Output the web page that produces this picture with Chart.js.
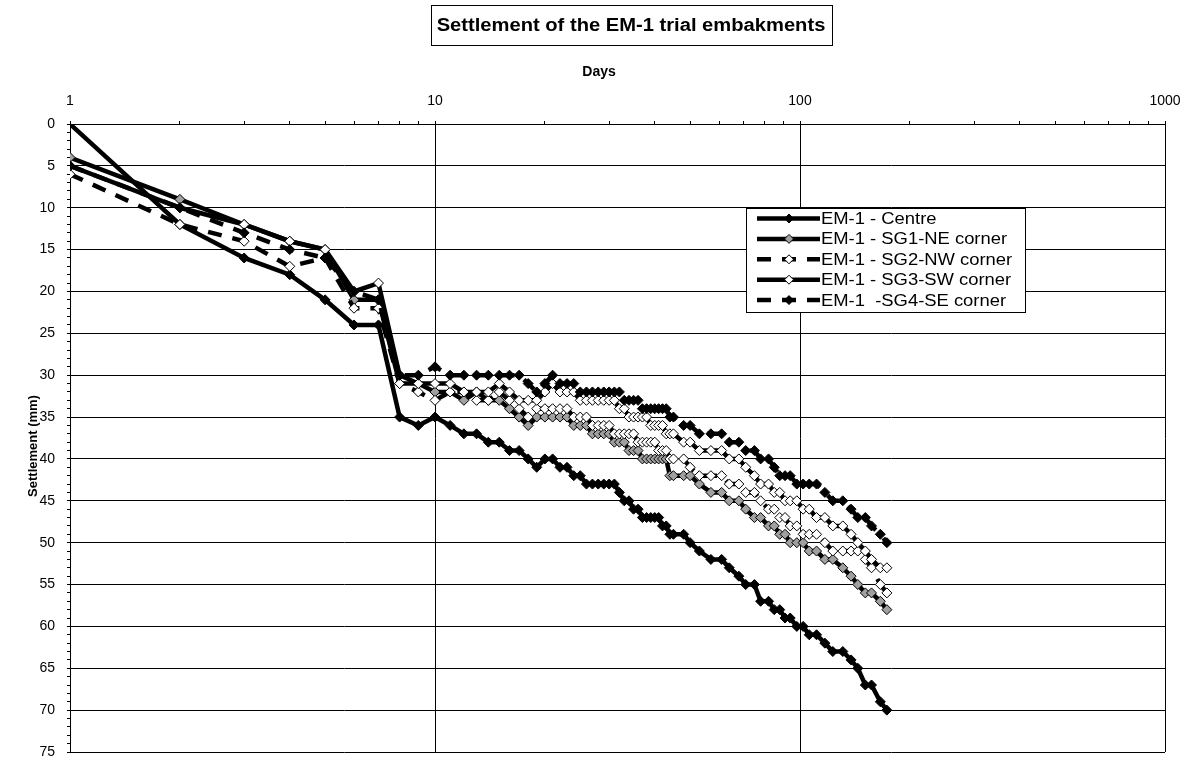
<!DOCTYPE html>
<html>
<head>
<meta charset="utf-8">
<script src="https://cdn.jsdelivr.net/npm/chart.js@4.4.1/dist/chart.umd.min.js"></script>
<style>
  html, body { margin: 0; padding: 0; background: #ffffff; }
  #wrap { width: 1192px; height: 762px; position: relative; }
</style>
</head>
<body>
<div id="wrap"><canvas id="settlement"></canvas></div>
<script>
// ---- Text ----
const chartTitle = 'Settlement of the EM-1 trial embakments';
const xAxisTitle = 'Days';
const yAxisTitle = 'Settlement (mm)';
const seriesNames = [
  'EM-1 - Centre',
  'EM-1 - SG1-NE corner',
  'EM-1 - SG2-NW corner',
  'EM-1 - SG3-SW corner',
  'EM-1  -SG4-SE corner'
];

// ---- Axis ticks ----
const xDecades = [1, 10, 100, 1000];
const yTickValues = [0, 5, 10, 15, 20, 25, 30, 35, 40, 45, 50, 55, 60, 65, 70, 75];

// ---- Readings (day, settlement in mm) ----
const days = [1, 2, 3, 4, 5, 6, 7, 8, 9, 10,
  11, 12, 13, 14, 15, 16, 17, 18, 19, 20,
  21, 22, 23, 24, 25, 26, 27, 28, 29, 30,
  31, 32, 33, 34, 35, 36, 37, 38, 39, 40,
  41, 42, 43, 44, 45,
  48, 50, 53, 57, 61, 64, 68, 71, 75, 78, 82, 85, 88, 91, 94, 98,
  102, 106, 111, 117, 123, 131, 138, 144, 151, 157, 166, 173];

const centre = [0, 12, 16, 18, 21, 24, 24, 35, 36, 35,
  36, 37, 37, 38, 38, 39, 39, 40, 41, 40,
  40, 41, 41, 42, 42, 43, 43, 43, 43, 43,
  43, 44, 45, 45, 46, 46, 47, 47, 47, 47,
  47, 48, 48, 49, 49,
  49, 50, 51, 52, 52, 53, 54, 55, 55, 57, 57, 58, 58, 59, 59, 60,
  60, 61, 61, 62, 63, 63, 64, 65, 67, 67, 69, 70];

const sg1NE = [4, 9, 12, 14, 15, 21, 21, 31, 31, 32,
  32, 33, 32, 33, 33, 34, 35, 36, 35, 35,
  35, 35, 35, 36, 36, 36, 37, 37, 37, 37,
  38, 38, 38, 39, 39, 39, 40, 40, 40, 40,
  40, 40, 40, 42, 42,
  42, 42, 43, 44, 44, 45, 45, 46, 47, 47, 48, 48, 49, 49, 50, 50,
  50, 51, 51, 52, 52, 53, 54, 55, 56, 56, 57, 58];

const sg2NW = [6, 12, 14, 17, 16, 22, 22, 31, 32, 33,
  32, 32, 33, 33, 32, 33, 34, 35, 34, 34,
  34, 34, 34, 35, 35, 35, 36, 36, 36, 36,
  37, 37, 37, 37, 37, 38, 38, 38, 38, 38,
  39, 39, 39, 40, 40,
  40, 41, 42, 42, 42, 43, 43, 44, 44, 45, 46, 46, 47, 47, 48, 48,
  49, 49, 49, 50, 51, 51, 51, 51, 52, 53, 55, 56];

const sg3SW = [5, 10, 12, 14, 15, 20, 19, 30, 31, 31,
  31, 32, 32, 32, 31, 32, 33, 33, 33, 32,
  31, 32, 32, 32, 33, 33, 33, 33, 33, 33,
  33, 34, 34, 35, 35, 35, 35, 35, 36, 36,
  36, 36, 37, 37, 37,
  38, 38, 39, 39, 39, 40, 40, 41, 42, 43, 43, 44, 44, 45, 45, 45,
  46, 46, 47, 47, 48, 48, 49, 50, 51, 52, 53, 53];

const sg4SE = [5, 10, 13, 15, 16, 20, 21, 30, 30, 29,
  30, 30, 30, 30, 30, 30, 30, 31, 32, 31,
  30, 31, 31, 31, 32, 32, 32, 32, 32, 32,
  32, 32, 33, 33, 33, 33, 34, 34, 34, 34,
  34, 34, 34, 35, 35,
  36, 36, 37, 37, 37, 38, 38, 39, 39, 40, 40, 41, 42, 42, 42, 43,
  43, 43, 43, 44, 45, 45, 46, 47, 47, 48, 49, 50];

// ---- Build datasets ----
function pairs(values) {
  return values.map((v, i) => ({ x: days[i], y: v }));
}

const DASH = [14, 11];
const seriesStyle = [
  { values: centre, fill: '#000000', dash: [] },
  { values: sg1NE, fill: '#a0a0a0', dash: [] },
  { values: sg2NW, fill: '#ffffff', dash: DASH },
  { values: sg3SW, fill: '#ffffff', dash: [] },
  { values: sg4SE, fill: '#000000', dash: DASH }
];

const datasets = seriesStyle.map((s, i) => ({
  label: seriesNames[i],
  data: pairs(s.values),
  borderColor: '#000000',
  borderWidth: 4.5,
  borderDash: s.dash,
  borderCapStyle: 'butt',
  borderJoinStyle: 'miter',
  tension: 0,
  pointStyle: 'rectRot',
  pointRadius: 5,
  pointHoverRadius: 5,
  pointBackgroundColor: s.fill,
  pointBorderColor: '#000000',
  pointBorderWidth: 1,
  order: seriesStyle.length - i
}));

const FONT = '"Liberation Sans", Arial, Helvetica, sans-serif';

// Title box, axis titles and the framed legend
const decorations = {
  id: 'decorations',
  afterDraw(chart) {
    const ctx = chart.ctx;
    ctx.save();
    ctx.fillStyle = '#000';
    ctx.strokeStyle = '#000';

    // boxed chart title
    ctx.font = 'bold 18px ' + FONT;
    ctx.textAlign = 'center';
    ctx.textBaseline = 'middle';
    const tcx = 631, tcy = 26;
    const tw = ctx.measureText(chartTitle).width;
    ctx.save();
    ctx.translate(tcx, tcy);
    ctx.scale(1.12, 1);
    ctx.fillText(chartTitle, 0, 0);
    ctx.restore();
    ctx.lineWidth = 1;
    const bw = Math.round(tw * 1.12 + 12);
    ctx.strokeRect(Math.round(tcx - bw / 2) + 0.5, 5.5, bw, 40);

    // x axis title
    ctx.font = 'bold 14px ' + FONT;
    ctx.fillText(xAxisTitle, 599, 72);

    // y axis title
    ctx.save();
    ctx.translate(33, 446);
    ctx.rotate(-Math.PI / 2);
    ctx.font = 'bold 13px ' + FONT;
    ctx.fillText(yAxisTitle, 0, 0);
    ctx.restore();

    // legend
    const lx = 746, ly = 208, lw = 279, lh = 104;
    ctx.fillStyle = '#fff';
    ctx.fillRect(lx, ly, lw, lh);
    ctx.lineWidth = 1;
    ctx.strokeRect(lx + 0.5, ly + 0.5, lw, lh);
    chart.data.datasets.forEach((ds, i) => {
      const y = 218.5 + i * 20.4;
      ctx.save();
      ctx.strokeStyle = '#000';
      ctx.lineWidth = ds.borderWidth;
      ctx.lineCap = 'butt';
      ctx.setLineDash(ds.borderDash || []);
      ctx.beginPath();
      ctx.moveTo(757, y);
      ctx.lineTo(820, y);
      ctx.stroke();
      ctx.setLineDash([]);
      ctx.fillStyle = ds.pointBackgroundColor;
      ctx.strokeStyle = '#000';
      ctx.lineWidth = 1;
      Chart.helpers.drawPoint(ctx, { pointStyle: 'rectRot', rotation: 0, radius: 4.5, borderWidth: 1 }, 789, y);
      ctx.restore();

      ctx.save();
      ctx.fillStyle = '#000';
      ctx.font = '16px ' + FONT;
      ctx.textAlign = 'left';
      ctx.textBaseline = 'middle';
      ctx.translate(821, y + 1);
      ctx.scale(1.15, 1);
      ctx.fillText(ds.label, 0, 0);
      ctx.restore();
    });
    ctx.restore();
  }
};

const isDecade = v => xDecades.includes(v);

new Chart(document.getElementById('settlement'), {
  type: 'line',
  data: { datasets },
  plugins: [decorations],
  options: {
    responsive: true,
    maintainAspectRatio: false,
    animation: false,
    events: [],
    layout: { padding: { left: 0, right: 27, top: 0, bottom: 10 } },
    plugins: {
      legend: { display: false },
      title: { display: false },
      tooltip: { enabled: false }
    },
    scales: {
      x: {
        type: 'logarithmic',
        position: 'top',
        min: 1,
        max: 1000,
        afterBuildTicks(scale) {
          const t = [];
          for (let k = 0; k < xDecades.length - 1; k++) {
            for (let m = 1; m <= 9; m++) t.push({ value: m * xDecades[k] });
          }
          t.push({ value: xDecades[xDecades.length - 1] });
          scale.ticks = t;
        },
        afterFit(scale) { scale.height = 124; },
        ticks: {
          autoSkip: false,
          maxRotation: 0,
          padding: 11,
          color: '#000',
          font: { family: FONT, size: 14 },
          callback: (v) => isDecade(v) ? String(v) : ''
        },
        grid: {
          color: (c) => (c.tick && isDecade(c.tick.value)) ? '#000' : 'rgba(0,0,0,0)',
          tickColor: '#000',
          tickLength: 3,
          lineWidth: 1
        },
        border: { display: true, color: '#000', width: 1 }
      },
      y: {
        type: 'linear',
        reverse: true,
        min: 0,
        max: 75,
        afterBuildTicks(scale) {
          const t = [];
          for (let v = yTickValues[0]; v <= yTickValues[yTickValues.length - 1]; v++) t.push({ value: v });
          scale.ticks = t;
        },
        afterFit(scale) {
          scale.width = 70;
          scale.paddingTop = 0;
          scale.paddingBottom = 0;
        },
        ticks: {
          autoSkip: false,
          padding: 12,
          color: '#000',
          font: { family: FONT, size: 14 },
          callback: (v) => yTickValues.includes(v) ? String(v) : ''
        },
        grid: {
          color: (c) => (c.tick && yTickValues.includes(c.tick.value)) ? '#000' : 'rgba(0,0,0,0)',
          tickColor: '#000',
          tickLength: 3,
          lineWidth: 1
        },
        border: { display: true, color: '#000', width: 1 }
      }
    }
  }
});
</script>
</body>
</html>
